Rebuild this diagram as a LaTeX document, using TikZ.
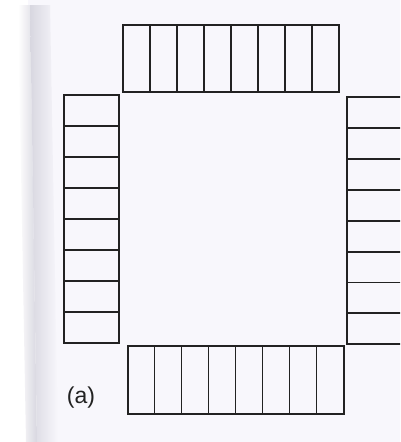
\documentclass[tikz,border=0pt]{standalone}
\usepackage{fontspec}
\setmainfont{Liberation Sans}
\usetikzlibrary{calc}
\definecolor{ink}{HTML}{222222}
\definecolor{paper}{HTML}{F8F7FC}
\definecolor{shadowgray}{HTML}{D8D7E0}
\begin{document}
\begin{tikzpicture}[x=1pt,y=-1pt,
  box/.style={draw=ink, line width=2pt, rectangle, inner sep=0pt, outer sep=0pt},
  divider/.style={draw=ink, line width=1.9pt},
  lbl/.style={text=ink, font=\fontsize{23}{27}\selectfont, inner sep=0pt}]
\useasboundingbox (0,0) rectangle (400,442);
\clip (0,0) rectangle (400,442);
% scanned page background
\fill[white] (0,0) rectangle (400,442);
\fill[paper] (28,0) -- (400,0) -- (400,442) -- (38,442) -- cycle;
\shade[left color=white, right color=shadowgray] (18,5) -- (30,5) -- (37,442) -- (26,442) -- cycle;
\shade[left color=shadowgray, right color=paper] (30,5) -- (50,5) -- (58,442) -- (37,442) -- cycle;
% boxes
\node[box, minimum width=216pt, minimum height=67pt] (top) at (231,58.4) {};
\node[box, minimum width=216pt, minimum height=68pt] (bottom) at (235.5,380) {};
\node[box, minimum width=55pt, minimum height=248pt] (left) at (91.5,219.3) {};
\node[box, minimum width=62pt, minimum height=247pt] (right) at (377.7,220.7) {};
\foreach \i in {1,...,7}{
  \draw[divider] ($(top.north west)!\i/8!(top.north east)$) -- ($(top.south west)!\i/8!(top.south east)$);
  \draw[divider] ($(bottom.north west)!\i/8!(bottom.north east)$) -- ($(bottom.south west)!\i/8!(bottom.south east)$);
  \draw[divider] ($(left.north west)!\i/8!(left.south west)$) -- ($(left.north east)!\i/8!(left.south east)$);
  \draw[divider] ($(right.north west)!\i/8!(right.south west)$) -- ($(right.north east)!\i/8!(right.south east)$);
}
\node[lbl] (label) at (81,398) {(a)};
\end{tikzpicture}
\end{document}
